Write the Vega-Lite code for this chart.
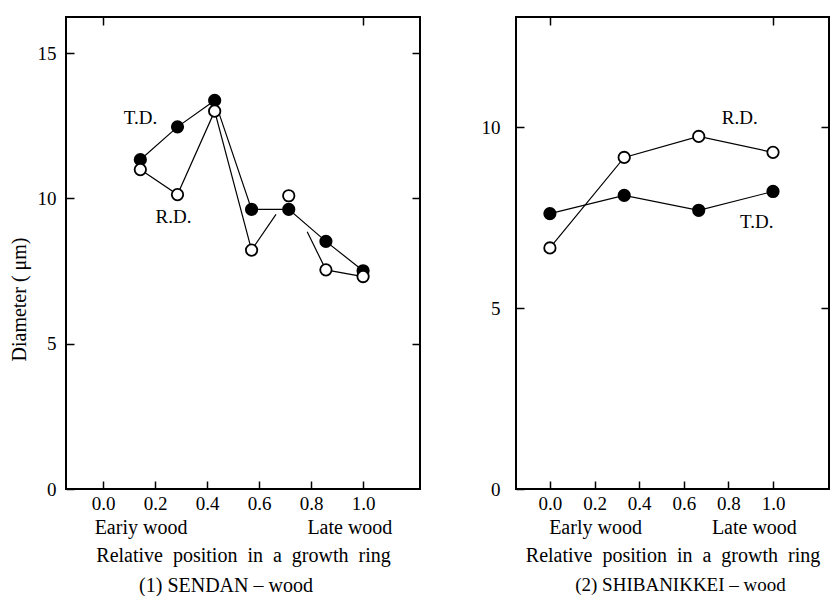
{
  "$schema": "https://vega.github.io/schema/vega-lite/v6.json",
  "background": "white",
  "padding": {"left": 8, "top": 15, "right": 0, "bottom": 0},
  "spacing": 58,
  "config": {
    "font": "Liberation Serif",
    "view": {"stroke": "black", "strokeWidth": 2},
    "axis": {
      "grid": false,
      "domain": false,
      "tickColor": "black",
      "tickSize": -8,
      "tickWidth": 1.5,
      "labelColor": "black",
      "titleColor": "black",
      "labelFont": "Liberation Serif",
      "titleFont": "Liberation Serif",
      "labelFontSize": 19,
      "titleFontSize": 20,
      "titleFontWeight": "normal"
    },
    "title": {"font": "Liberation Serif", "fontSize": 20, "fontWeight": "normal", "color": "black"}
  },
  "datasets": {
    "sendan": [
      {"series": "T.D.", "trace": "T.D.", "kind": "measured", "pos": 0.143, "diam": 11.33},
      {"series": "T.D.", "trace": "T.D.", "kind": "measured", "pos": 0.286, "diam": 12.46},
      {"series": "T.D.", "trace": "T.D.", "kind": "measured", "pos": 0.429, "diam": 13.37},
      {"series": "T.D.", "trace": "T.D.", "kind": "measured", "pos": 0.571, "diam": 9.62},
      {"series": "T.D.", "trace": "T.D.", "kind": "measured", "pos": 0.714, "diam": 9.62},
      {"series": "T.D.", "trace": "T.D.", "kind": "measured", "pos": 0.857, "diam": 8.52},
      {"series": "T.D.", "trace": "T.D.", "kind": "measured", "pos": 1.0, "diam": 7.51},
      {"series": "R.D.", "trace": "R.D. a", "kind": "measured", "pos": 0.143, "diam": 10.99},
      {"series": "R.D.", "trace": "R.D. a", "kind": "measured", "pos": 0.286, "diam": 10.13},
      {"series": "R.D.", "trace": "R.D. a", "kind": "measured", "pos": 0.429, "diam": 13.0},
      {"series": "R.D.", "trace": "R.D. a", "kind": "measured", "pos": 0.571, "diam": 8.22},
      {"series": "R.D.", "trace": "R.D. a", "kind": "line end", "pos": 0.665, "diam": 9.45},
      {"series": "R.D.", "trace": "R.D. c", "kind": "measured", "pos": 0.714, "diam": 10.09},
      {"series": "R.D.", "trace": "R.D. b", "kind": "line end", "pos": 0.785, "diam": 8.85},
      {"series": "R.D.", "trace": "R.D. b", "kind": "measured", "pos": 0.857, "diam": 7.54},
      {"series": "R.D.", "trace": "R.D. b", "kind": "measured", "pos": 1.0, "diam": 7.31}
    ],
    "shibanikkei": [
      {"series": "T.D.", "trace": "T.D.", "kind": "measured", "pos": 0.0, "diam": 7.61},
      {"series": "T.D.", "trace": "T.D.", "kind": "measured", "pos": 0.333, "diam": 8.11},
      {"series": "T.D.", "trace": "T.D.", "kind": "measured", "pos": 0.667, "diam": 7.70},
      {"series": "T.D.", "trace": "T.D.", "kind": "measured", "pos": 1.0, "diam": 8.22},
      {"series": "R.D.", "trace": "R.D.", "kind": "measured", "pos": 0.0, "diam": 6.66},
      {"series": "R.D.", "trace": "R.D.", "kind": "measured", "pos": 0.333, "diam": 9.16},
      {"series": "R.D.", "trace": "R.D.", "kind": "measured", "pos": 0.667, "diam": 9.74},
      {"series": "R.D.", "trace": "R.D.", "kind": "measured", "pos": 1.0, "diam": 9.30}
    ]
  },
  "hconcat": [
    {
      "width": 354,
      "height": 472,
      "title": {"text": "(1) SENDAN – wood", "orient": "bottom", "dx": -17, "offset": 11},
      "data": {"name": "sendan"},
      "resolve": {"axis": {"x": "independent", "y": "independent"}},
      "layer": [
        {
          "mark": {"type": "line", "color": "black", "strokeWidth": 1.2},
          "encoding": {
            "x": {
              "field": "pos", "type": "quantitative",
              "scale": {"domain": [-0.143, 1.219], "nice": false, "zero": false},
              "axis": {
                "orient": "bottom", "values": [0, 0.2, 0.4, 0.6, 0.8, 1.0], "format": ".1f", "labelPadding": 13,
                "title": ["Eariy wood\u00a0\u00a0\u00a0\u00a0\u00a0\u00a0\u00a0\u00a0\u00a0\u00a0\u00a0\u00a0\u00a0\u00a0\u00a0\u00a0\u00a0\u00a0\u00a0\u00a0\u00a0\u00a0\u00a0\u00a0Late wood", "Relative\u00a0 position\u00a0 in\u00a0 a\u00a0 growth\u00a0 ring"],
                "titleLineHeight": 28, "titlePadding": 4
              }
            },
            "y": {
              "field": "diam", "type": "quantitative",
              "scale": {"domain": [0, 16.24], "nice": false},
              "axis": {"orient": "left", "values": [0, 5, 10, 15], "labelPadding": 18, "title": "Diameter ( μm)", "titleY": 282, "titlePadding": 8}
            },
            "detail": {"field": "trace", "type": "nominal"},
            "order": {"field": "pos", "type": "quantitative"}
          }
        },
        {
          "transform": [{"filter": "datum.kind == 'measured'"}],
          "mark": {"type": "point", "shape": "circle", "filled": true, "size": 130, "stroke": "black", "strokeWidth": 1.8, "opacity": 1},
          "encoding": {
            "x": {"field": "pos", "type": "quantitative", "axis": {"orient": "top", "values": [0, 1], "labels": false, "title": null}},
            "y": {"field": "diam", "type": "quantitative", "axis": {"orient": "right", "values": [5, 10, 15], "labels": false, "title": null}},
            "fill": {"field": "series", "type": "nominal", "scale": {"domain": ["T.D.", "R.D."], "range": ["black", "white"]}, "legend": null}
          }
        },
        {
          "transform": [{"filter": "datum.kind == 'measured' && datum.series == 'T.D.' && datum.pos == 0.286"}],
          "mark": {"type": "text", "fontSize": 19, "dx": -37, "dy": -9, "align": "center", "baseline": "middle", "color": "black"},
          "encoding": {
            "x": {"field": "pos", "type": "quantitative", "axis": null},
            "y": {"field": "diam", "type": "quantitative", "axis": null},
            "text": {"field": "series"}
          }
        },
        {
          "transform": [{"filter": "datum.kind == 'measured' && datum.series == 'R.D.' && datum.pos == 0.286"}],
          "mark": {"type": "text", "fontSize": 19, "dx": -4, "dy": 22, "align": "center", "baseline": "middle", "color": "black"},
          "encoding": {
            "x": {"field": "pos", "type": "quantitative", "axis": null},
            "y": {"field": "diam", "type": "quantitative", "axis": null},
            "text": {"field": "series"}
          }
        }
      ]
    },
    {
      "width": 313,
      "height": 472,
      "title": {"text": "(2) SHIBANIKKEI – wood", "orient": "bottom", "dx": 8, "offset": 11, "fontSize": 19},
      "data": {"name": "shibanikkei"},
      "resolve": {"axis": {"x": "independent", "y": "independent"}},
      "layer": [
        {
          "mark": {"type": "line", "color": "black", "strokeWidth": 1.2},
          "encoding": {
            "x": {
              "field": "pos", "type": "quantitative",
              "scale": {"domain": [-0.152, 1.251], "nice": false, "zero": false},
              "axis": {
                "orient": "bottom", "values": [0, 0.2, 0.4, 0.6, 0.8, 1.0], "format": ".1f", "labelPadding": 13,
                "title": ["Early wood\u00a0\u00a0\u00a0\u00a0\u00a0\u00a0\u00a0\u00a0\u00a0\u00a0\u00a0\u00a0\u00a0\u00a0Late wood", "Relative\u00a0 position\u00a0 in\u00a0 a\u00a0 growth\u00a0 ring"],
                "titleLineHeight": 28, "titlePadding": 4
              }
            },
            "y": {
              "field": "diam", "type": "quantitative",
              "scale": {"domain": [0, 13.04], "nice": false},
              "axis": {"orient": "left", "values": [0, 5, 10], "labelPadding": 24, "title": null}
            },
            "detail": {"field": "trace", "type": "nominal"},
            "order": {"field": "pos", "type": "quantitative"}
          }
        },
        {
          "mark": {"type": "point", "shape": "circle", "filled": true, "size": 130, "stroke": "black", "strokeWidth": 1.8, "opacity": 1},
          "encoding": {
            "x": {"field": "pos", "type": "quantitative", "axis": {"orient": "top", "values": [0, 1], "labels": false, "title": null}},
            "y": {"field": "diam", "type": "quantitative", "axis": {"orient": "right", "values": [5, 10], "labels": false, "title": null}},
            "fill": {"field": "series", "type": "nominal", "scale": {"domain": ["T.D.", "R.D."], "range": ["black", "white"]}, "legend": null}
          }
        },
        {
          "transform": [{"filter": "datum.series == 'R.D.' && datum.pos == 0.667"}],
          "mark": {"type": "text", "fontSize": 19, "dx": 41, "dy": -18, "align": "center", "baseline": "middle", "color": "black"},
          "encoding": {
            "x": {"field": "pos", "type": "quantitative", "axis": null},
            "y": {"field": "diam", "type": "quantitative", "axis": null},
            "text": {"field": "series"}
          }
        },
        {
          "transform": [{"filter": "datum.series == 'T.D.' && datum.pos == 0.667"}],
          "mark": {"type": "text", "fontSize": 19, "dx": 58, "dy": 12, "align": "center", "baseline": "middle", "color": "black"},
          "encoding": {
            "x": {"field": "pos", "type": "quantitative", "axis": null},
            "y": {"field": "diam", "type": "quantitative", "axis": null},
            "text": {"field": "series"}
          }
        }
      ]
    }
  ]
}
